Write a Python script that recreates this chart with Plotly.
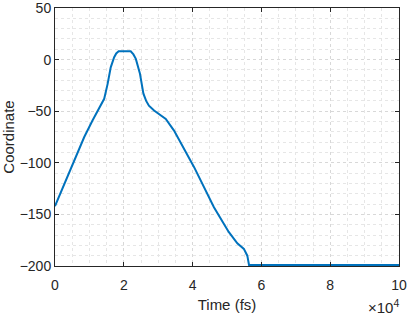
import plotly.graph_objects as go

# Trajectory (time in units of 1e4 fs)
time_e4 = [0, 0.32, 0.61, 0.85, 1.09, 1.28, 1.43, 1.53, 1.62, 1.72, 1.78, 1.85,
           2.2, 2.28, 2.35, 2.47, 2.57, 2.65, 2.73, 2.88, 3.02, 3.22, 3.46, 4.04, 4.62,
           5.05, 5.3, 5.49, 5.59, 5.64, 10]
coord = [-142, -117, -93, -75, -59, -48, -38, -23.5, -7.5, 2.3, 6, 8,
         8, 5, 0.7, -13.8, -33, -40, -44.6, -49.4, -53, -57.5, -68.8, -104, -143,
         -167, -178, -183.4, -190, -199, -199]

x_ticks = [0, 2, 4, 6, 8, 10]
font_name = 'Liberation Sans, Arial'

fig = go.Figure()
fig.add_trace(go.Scatter(
    x=[t * 1e4 for t in time_e4], y=coord, mode='lines',
    line=dict(color='#0072BD', width=2), showlegend=False))

axis_common = dict(
    showline=True, linecolor='#262626', linewidth=1, mirror='ticks',
    ticks='inside', ticklen=4, tickcolor='#262626', automargin=False,
    ticklabeloverflow='allow',
    showgrid=True, gridcolor='#d8d8d8', griddash='dot', gridwidth=1,
    zeroline=False, tickfont=dict(family=font_name, size=14, color='#262626'),
    title_font=dict(family=font_name, size=15, color='#262626'),
)

fig.update_layout(
    width=407, height=317,
    margin=dict(l=55, r=8, t=8, b=51),
    plot_bgcolor='white', paper_bgcolor='white',
    xaxis=dict(range=[0, 1e5], tickvals=[t * 1e4 for t in x_ticks],
               ticktext=[str(t) for t in x_ticks], ticklabelstandoff=6,
               title=dict(text='Time (fs)', standoff=7),
               minor=dict(dtick=5000, showgrid=True, gridcolor='#e6e6e6',
                          griddash='dot', ticks=''),
               **axis_common),
    yaxis=dict(range=[-200, 50], dtick=50, title=dict(text='Coordinate', standoff=4),
               minor=dict(dtick=10, showgrid=True, gridcolor='#e6e6e6',
                          griddash='dot', ticks=''),
               **axis_common),
    annotations=[dict(text='×10<sup>4</sup>', x=1.005, y=-0.112, xref='paper', yref='paper',
                      xanchor='right', yanchor='top', showarrow=False,
                      font=dict(family=font_name, size=15, color='#262626'))],
)

# drop the default page margin so the 407x317 figure fits the window exactly
fig.write_html("out.html", config={'displayModeBar': False},
               post_script="document.body.style.margin='0';")
